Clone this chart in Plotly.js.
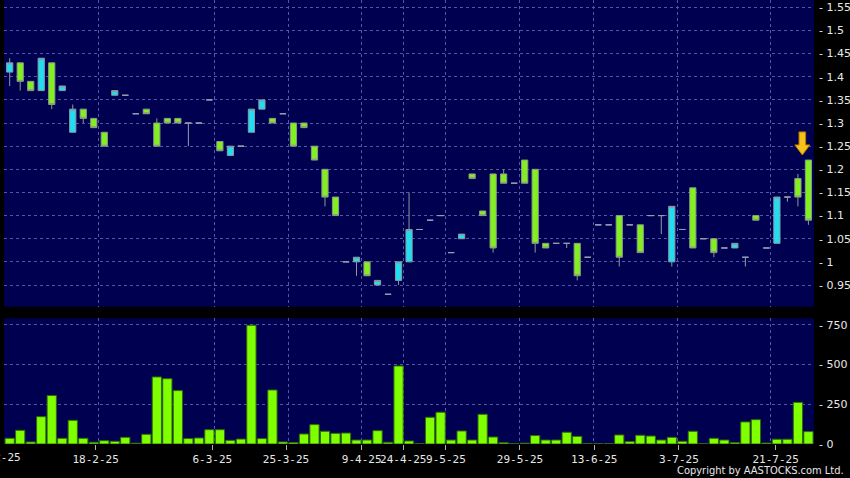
<!DOCTYPE html>
<html>
<head>
<meta charset="utf-8">
<script src="https://cdn.plot.ly/plotly-3.0.1.min.js"></script>
<style>html,body{margin:0;padding:0;background:#000;}#chart{width:850px;height:478px;}</style>
</head>
<body>
<div id="chart"></div>
<script>
// ---- data ----
const opens  = [1.41,1.43,1.39,1.37,1.43,1.37,1.28,1.33,1.31,1.28,1.36,1.36,1.32,1.33,1.30,1.31,1.31,1.30,1.30,1.35,1.26,1.23,1.25,1.28,1.33,1.31,1.32,1.30,1.30,1.25,1.20,1.14,1.00,1.00,1.00,0.95,0.93,0.96,1.00,1.07,1.09,1.10,1.02,1.05,1.19,1.11,1.19,1.19,1.17,1.22,1.20,1.04,1.04,1.04,1.04,1.01,1.08,1.08,1.10,1.08,1.08,1.10,1.10,1.00,1.07,1.16,1.05,1.05,1.03,1.03,1.01,1.10,1.03,1.04,1.14,1.18,1.22];
const highs  = [1.44,1.43,1.39,1.44,1.43,1.38,1.34,1.33,1.31,1.28,1.37,1.36,1.32,1.33,1.31,1.31,1.31,1.30,1.30,1.35,1.26,1.25,1.25,1.33,1.35,1.31,1.32,1.30,1.30,1.25,1.20,1.14,1.00,1.01,1.00,0.96,0.93,1.00,1.15,1.07,1.09,1.10,1.02,1.06,1.19,1.11,1.19,1.20,1.17,1.22,1.20,1.04,1.04,1.04,1.04,1.01,1.08,1.08,1.10,1.08,1.08,1.10,1.10,1.12,1.07,1.16,1.05,1.05,1.03,1.04,1.01,1.10,1.03,1.14,1.14,1.19,1.22];
const lows   = [1.38,1.37,1.37,1.37,1.33,1.37,1.28,1.30,1.29,1.25,1.36,1.36,1.32,1.32,1.25,1.30,1.30,1.25,1.30,1.35,1.24,1.23,1.25,1.28,1.33,1.30,1.32,1.25,1.29,1.22,1.12,1.10,1.00,0.97,0.97,0.95,0.93,0.95,1.00,1.07,1.09,1.10,1.02,1.05,1.18,1.10,1.02,1.17,1.17,1.17,1.02,1.03,1.04,1.03,0.96,1.01,1.08,1.08,0.99,1.08,1.02,1.10,1.06,0.99,1.07,1.03,1.05,1.01,1.03,1.03,0.99,1.09,1.03,1.04,1.13,1.12,1.08];
const closes = [1.43,1.39,1.37,1.44,1.34,1.38,1.33,1.31,1.29,1.25,1.37,1.36,1.32,1.32,1.25,1.30,1.30,1.30,1.30,1.35,1.24,1.25,1.25,1.33,1.35,1.30,1.32,1.25,1.29,1.22,1.14,1.10,1.00,1.01,0.97,0.96,0.93,1.00,1.07,1.07,1.09,1.10,1.02,1.06,1.18,1.10,1.03,1.17,1.17,1.17,1.04,1.03,1.04,1.04,0.97,1.01,1.08,1.08,1.01,1.08,1.02,1.10,1.10,1.12,1.07,1.03,1.05,1.02,1.03,1.04,1.01,1.09,1.03,1.14,1.14,1.14,1.09];
const volumes = [36,86,13,172,305,36,149,36,11,21,17,42,5,61,422,411,336,34,38,90,90,23,31,747,34,340,13,10,63,122,80,67,69,25,25,84,11,491,19,2,168,200,25,82,25,187,44,8,2,5,53,25,25,74,48,2,1,2,57,15,55,50,25,42,17,80,2,36,25,9,139,153,6,30,30,262,78];

const dateLabels = ['5-2-25','18-2-25','6-3-25','25-3-25','9-4-25','24-4-25','9-5-25','29-5-25','13-6-25','3-7-25','21-7-25'];
const dateLabelPos = [-0.80,8.18,19.28,26.29,33.49,37.45,41.51,48.55,55.62,63.68,72.88];
const dateGridPos  = [-0.51,8.43,19.47,26.53,33.47,37.43,41.48,48.53,55.53,63.52,72.41];

const priceTickVals = [0.95,1.00,1.05,1.10,1.15,1.20,1.25,1.30,1.35,1.40,1.45,1.50,1.55];
const priceTickText = ['0.95','1','1.05','1.1','1.15','1.2','1.25','1.3','1.35','1.4','1.45','1.5','1.55'];
const volTickVals = [0,250,500,750];
const volTickText = ['0','250','500','750'];

// ---- build ----
const idx = opens.map((_, i) => i);
function pick(cond) {
  const o={x:[],open:[],high:[],low:[],close:[]};
  idx.forEach(i => { if (cond(i)) { o.x.push(i); o.open.push(opens[i]); o.high.push(highs[i]); o.low.push(lows[i]); o.close.push(closes[i]); } });
  return o;
}
const upD = pick(i => closes[i] > opens[i]);
const dnD = pick(i => closes[i] < opens[i]);
const flD = pick(i => closes[i] === opens[i]);

function candle(d, fill, line) {
  return Object.assign({
    type:'candlestick', xaxis:'x2', yaxis:'y', hoverinfo:'skip',
    increasing:{fillcolor:fill, line:{color:line, width:1}},
    decreasing:{fillcolor:fill, line:{color:line, width:1}},
    whiskerwidth:0
  }, d);
}

const gridColor = '#5656a6';
const tickFont = {family:'DejaVu Sans, sans-serif', size:11, color:'#e8e8e8'};
const xFont = {family:'DejaVu Sans Mono, monospace', size:11, color:'#e8e8e8'};

const traces = [
  candle(upD, '#22dcf2', '#8c9aa0'),
  candle(dnD, '#82f020', '#8c9a88'),
  candle(flD, '#9a9aae', '#9a9aae'),
  {type:'bar', x:idx, y:volumes, xaxis:'x', yaxis:'y2', hoverinfo:'skip',
   marker:{color:'#80ff00', line:{color:'#2e6a0a', width:1}}}
];

const minorGrid = {tickmode:'array', tickvals:dateGridPos, showgrid:true, gridcolor:gridColor, griddash:'3px,3px', gridwidth:1, ticks:''};
const xr = [-0.542, 76.53];
const lastI = idx.length - 1;
const toPaper = v => (v - xr[0]) / (xr[1] - xr[0]);

const layout = {
  width:850, height:478,
  paper_bgcolor:'#000000', plot_bgcolor:'#000050',
  margin:{l:4, r:36, t:0, b:34},
  showlegend:false,
  boxgap:0.41, boxgroupgap:0, bargap:0.12,
  xaxis:{domain:[0,1], anchor:'y2', range:xr, tickmode:'array',
    tickvals:dateLabelPos.slice(1), ticktext:dateLabels.slice(1), tickangle:0,
    ticks:'outside', ticklen:5, tickcolor:'#b0b0b0', tickfont:xFont,
    showgrid:false, zeroline:false, showline:false, minor:minorGrid,
    rangeslider:{visible:false}, fixedrange:true},
  xaxis2:{domain:[0,1], anchor:'y', matches:'x', range:xr, tickmode:'array',
    tickvals:dateLabelPos, showticklabels:false, ticks:'', showgrid:false,
    zeroline:false, showline:false, minor:minorGrid, rangeslider:{visible:false}},
  yaxis:{domain:[0.3092,1], anchor:'x2', side:'right', range:[0.9031,1.5658],
    tickmode:'array', tickvals:priceTickVals, ticktext:priceTickText.map(t => '- ' + t),
    ticks:'', ticklabelstandoff:4, tickfont:tickFont,
    showgrid:true, gridcolor:gridColor, griddash:'3px,3px', gridwidth:1,
    zeroline:false, showline:false},
  yaxis2:{domain:[0,0.2831], anchor:'x', side:'right', range:[0,791],
    tickmode:'array', tickvals:volTickVals, ticktext:volTickText.map(t => '- ' + t),
    ticks:'', ticklabelstandoff:4, tickfont:tickFont,
    showgrid:true, gridcolor:gridColor, griddash:'3px,3px', gridwidth:1,
    zeroline:false, showline:false},
  annotations:[
    {xref:'paper', yref:'paper', x:toPaper(dateLabelPos[0]), y:-0.0315, text:dateLabels[0],
     showarrow:false, xanchor:'center', yanchor:'middle', font:xFont},
    {xref:'paper', yref:'paper', x:1.0395, y:-0.0608, text:'Copyright by AASTOCKS.com Ltd.',
     showarrow:false, xanchor:'right', yanchor:'middle',
     font:{family:'DejaVu Sans Condensed, DejaVu Sans, sans-serif', size:11, color:'#e8e8e8'}}
  ],
  shapes:[
    {type:'path', xref:'x2', yref:'y', xsizemode:'pixel', ysizemode:'pixel',
     xanchor: idx[lastI] - 0.58, yanchor: highs[lastI] + 0.011,
     path:'M 0 0 L -7.5 10 L -3.3 10 L -3.3 23 L 3.3 23 L 3.3 10 L 7.5 10 Z',
     fillcolor:'#f6c21a', line:{color:'#b87a00', width:1}}
  ]
};

Plotly.newPlot('chart', traces, layout, {staticPlot:true, displayModeBar:false});
</script>
</body>
</html>
